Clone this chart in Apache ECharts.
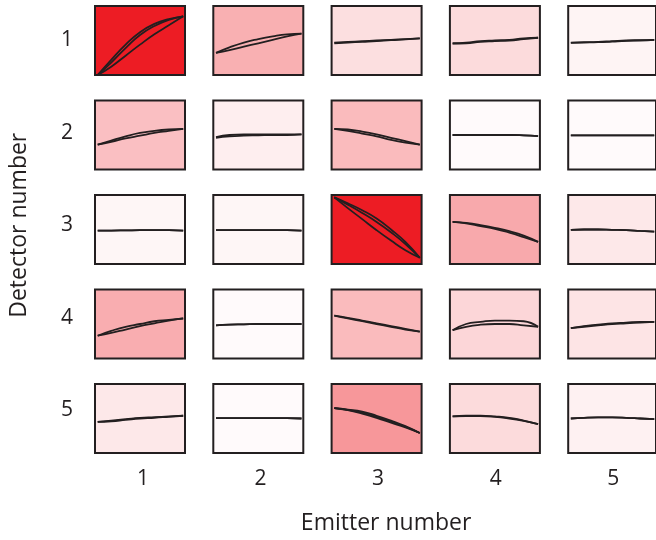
<!DOCTYPE html>
<html>
<head>
<meta charset="utf-8">
<script src="https://cdn.jsdelivr.net/npm/echarts@6/dist/echarts.min.js"></script>
<style>html,body{margin:0;padding:0;background:#fff}#c{width:656px;height:540px}</style>
</head>
<body>
<div id="c"></div>
<script>
const emitters = ['1','2','3','4','5'];
const detectors = ['1','2','3','4','5'];
const xs = [0.03, 0.18, 0.34, 0.5, 0.66, 0.82, 0.98];
// colour intensity (0 = white, 1 = full red), rows = detector, cols = emitter
const intensity = [
  [1.00, 0.35, 0.14, 0.16, 0.05],
  [0.28, 0.075, 0.30, 0.02, 0.02],
  [0.04, 0.04, 1.00, 0.38, 0.10],
  [0.36, 0.02, 0.30, 0.18, 0.12],
  [0.10, 0.02, 0.46, 0.16, 0.06]
];
// upper branch of each panel's loop (row-major)
const upperBranch = [
  [0.00,0.22,0.44,0.62,0.74,0.81,0.85],
  [0.32,0.40,0.47,0.52,0.56,0.59,0.60],
  [0.47,0.48,0.49,0.50,0.51,0.52,0.53],
  [0.46,0.47,0.49,0.50,0.51,0.53,0.54],
  [0.47,0.475,0.48,0.49,0.50,0.505,0.51],
  [0.36,0.42,0.48,0.53,0.56,0.58,0.59],
  [0.47,0.50,0.51,0.51,0.51,0.51,0.51],
  [0.59,0.58,0.55,0.51,0.46,0.41,0.36],
  [0.50,0.50,0.50,0.50,0.50,0.495,0.485],
  [0.495,0.495,0.495,0.495,0.495,0.495,0.495],
  [0.485,0.485,0.487,0.49,0.49,0.49,0.485],
  [0.49,0.49,0.49,0.49,0.49,0.49,0.485],
  [0.965,0.88,0.78,0.66,0.50,0.32,0.09],
  [0.61,0.595,0.565,0.525,0.475,0.41,0.32],
  [0.495,0.50,0.50,0.495,0.49,0.48,0.47],
  [0.33,0.40,0.46,0.50,0.54,0.56,0.58],
  [0.48,0.49,0.495,0.50,0.50,0.50,0.50],
  [0.62,0.59,0.55,0.51,0.47,0.43,0.39],
  [0.41,0.50,0.53,0.55,0.55,0.54,0.46],
  [0.44,0.47,0.49,0.51,0.52,0.53,0.53],
  [0.45,0.47,0.49,0.51,0.52,0.53,0.54],
  [0.505,0.505,0.505,0.505,0.505,0.505,0.50],
  [0.65,0.63,0.60,0.54,0.47,0.39,0.29],
  [0.53,0.54,0.54,0.53,0.51,0.47,0.42],
  [0.50,0.51,0.515,0.515,0.51,0.50,0.49]
];
// lower branch of each panel's loop (row-major)
const lowerBranch = [
  [0.00,0.12,0.28,0.44,0.59,0.72,0.85],
  [0.32,0.36,0.41,0.46,0.51,0.56,0.60],
  [0.46,0.47,0.48,0.49,0.505,0.515,0.53],
  [0.455,0.46,0.48,0.49,0.50,0.52,0.54],
  [0.465,0.47,0.475,0.485,0.495,0.50,0.51],
  [0.36,0.40,0.45,0.49,0.53,0.56,0.59],
  [0.46,0.48,0.49,0.495,0.50,0.50,0.51],
  [0.59,0.56,0.52,0.48,0.43,0.39,0.36],
  [0.50,0.50,0.50,0.50,0.50,0.495,0.485],
  [0.495,0.495,0.495,0.495,0.495,0.495,0.495],
  [0.485,0.485,0.487,0.49,0.49,0.49,0.485],
  [0.49,0.49,0.49,0.49,0.49,0.49,0.485],
  [0.965,0.81,0.65,0.49,0.34,0.20,0.09],
  [0.61,0.59,0.55,0.51,0.455,0.39,0.32],
  [0.495,0.50,0.50,0.495,0.49,0.48,0.47],
  [0.33,0.37,0.42,0.47,0.51,0.55,0.58],
  [0.48,0.49,0.495,0.50,0.50,0.50,0.50],
  [0.62,0.58,0.54,0.50,0.46,0.42,0.39],
  [0.41,0.46,0.49,0.50,0.50,0.48,0.46],
  [0.44,0.46,0.48,0.50,0.51,0.52,0.53],
  [0.45,0.46,0.48,0.50,0.51,0.525,0.54],
  [0.505,0.505,0.505,0.505,0.505,0.505,0.50],
  [0.65,0.62,0.57,0.51,0.44,0.37,0.29],
  [0.53,0.535,0.535,0.525,0.50,0.465,0.42],
  [0.50,0.51,0.515,0.515,0.51,0.50,0.49]
];
// extra inner loops on the strongest panels
const innerBranch = {
  0: [0.00,0.18,0.39,0.58,0.71,0.80,0.85],
  12: [0.965,0.86,0.74,0.61,0.46,0.29,0.09],
  22: [0.65,0.625,0.585,0.525,0.455,0.38,0.29]
};

function shade(t) {
  const r = Math.round(255 - t * (255 - 237));
  const g = Math.round(255 - t * (255 - 28));
  const b = Math.round(255 - t * (255 - 36));
  return 'rgb(' + r + ',' + g + ',' + b + ')';
}

const font = '"Open Sans", "Noto Sans", sans-serif';
const ink = '#231f20';
const pitchX = 118.3, pitchY = 94.5;
const grids = [{ left: 140, top: 40.5, width: 4 * pitchX, height: 4 * pitchY, show: false }];
const xAxes = [{
  gridIndex: 0, type: 'category', data: emitters, boundaryGap: false,
  axisLine: { show: false }, axisTick: { show: false }, splitLine: { show: false },
  axisLabel: { color: ink, fontSize: 21, fontFamily: font, margin: 59 },
  name: 'Emitter number', nameLocation: 'middle', nameGap: 102,
  nameTextStyle: { color: ink, fontSize: 23, fontFamily: font, padding: [0, 0, 0, 16] }
}];
const yAxes = [{
  gridIndex: 0, type: 'category', data: detectors, boundaryGap: false, inverse: true,
  axisLine: { show: false }, axisTick: { show: false }, splitLine: { show: false },
  axisLabel: { color: ink, fontSize: 21, fontFamily: font, margin: 70 },
  name: 'Detector number', nameLocation: 'middle', nameGap: 112, nameRotate: 90,
  nameTextStyle: { color: ink, fontSize: 23, fontFamily: font }
}];
const series = [{ type: 'line', xAxisIndex: 0, yAxisIndex: 0, data: [], silent: true }];

for (let r = 0; r < 5; r++) {
  for (let c = 0; c < 5; c++) {
    const k = r * 5 + c;
    const gi = grids.length;
    grids.push({
      left: 95 + c * pitchX, top: 6 + r * pitchY, width: 90, height: 69,
      show: true, backgroundColor: shade(intensity[r][c]),
      borderColor: ink, borderWidth: 2
    });
    xAxes.push({ gridIndex: gi, type: 'value', min: 0, max: 1, show: false });
    yAxes.push({ gridIndex: gi, type: 'value', min: 0, max: 1, show: false });
    const branches = [upperBranch[k], lowerBranch[k]];
    if (innerBranch[k]) branches.push(innerBranch[k]);
    branches.forEach(arr => {
      series.push({
        type: 'line', xAxisIndex: gi, yAxisIndex: gi, smooth: true, symbol: 'none',
        silent: true, animation: false,
        lineStyle: { color: ink, width: 1.8 },
        data: arr.map((v, i) => [xs[i], v])
      });
    });
  }
}

const chart = echarts.init(document.getElementById('c'));
chart.setOption({
  animation: false,
  backgroundColor: '#ffffff',
  grid: grids, xAxis: xAxes, yAxis: yAxes, series: series
});
</script>
</body>
</html>
